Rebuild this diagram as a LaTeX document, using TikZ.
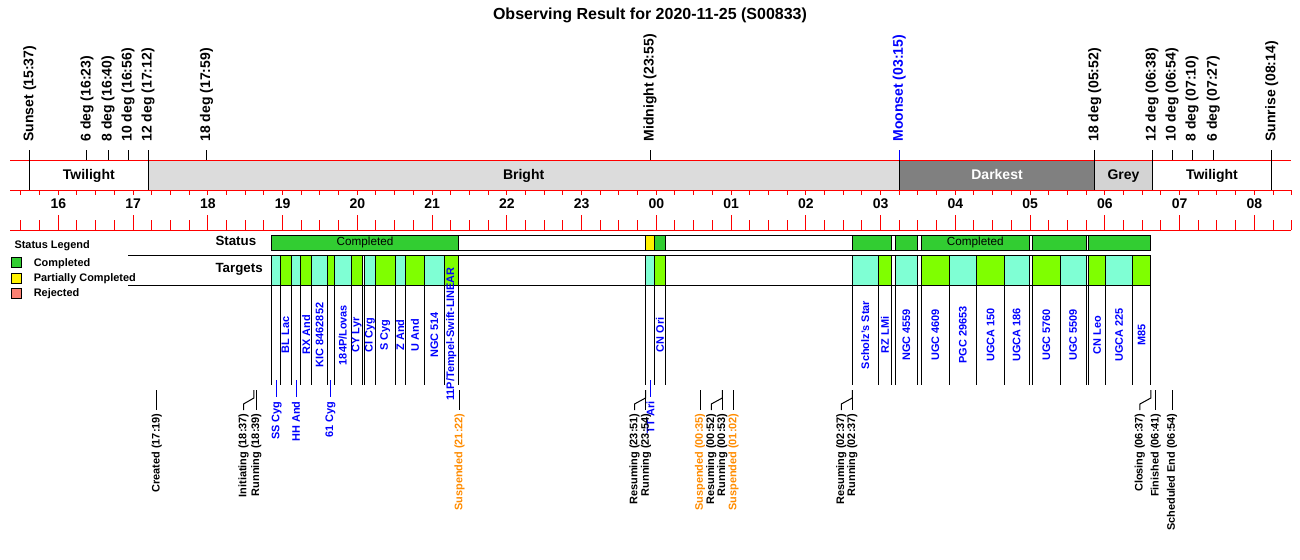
\documentclass[tikz,border=0pt]{standalone}
\usepackage{fontspec}
\setmainfont{Liberation Sans}
\definecolor{stgreen}{RGB}{50,205,50}
\definecolor{tgaqua}{RGB}{127,255,212}
\definecolor{tgchart}{RGB}{127,255,0}
\definecolor{brightband}{RGB}{220,220,220}
\definecolor{darkband}{RGB}{128,128,128}
\definecolor{greyband}{RGB}{211,211,211}
\definecolor{rejsalmon}{RGB}{250,128,114}
\definecolor{susporange}{RGB}{255,140,0}
\newcommand\evstraight[1]{\draw (#1,390) -- (#1,410);}
\newcommand\evshift[2]{\draw (#1,390) -- (#1,398) -- (#2,404) -- (#2,410);}
\newcommand\tgtstem[1]{\draw[blue] (#1,380) -- (#1,397);}
\begin{document}
\begin{tikzpicture}[x=0.75pt,y=-0.75pt,line width=0.75pt,
  declare function={tx(\t)=58.3+74.75*(\t-16);},
  rule/.style={draw=red,line width=0.75pt},
  toplab/.style={rotate=90,anchor=west,inner sep=0pt,font=\bfseries\fontsize{10.5}{12}\selectfont},
  tgtlab/.style={rotate=90,inner sep=0pt,text=blue,font=\bfseries\fontsize{8.2}{10}\selectfont},
  tgtlow/.style={tgtlab,anchor=east},
  evlab/.style={rotate=90,anchor=east,inner sep=0pt,font=\bfseries\fontsize{8.2}{10}\selectfont},
  hourlab/.style={inner sep=0pt,font=\bfseries\fontsize{10.5}{12}\selectfont},
  bandlab/.style={anchor=base,inner sep=0pt,font=\bfseries\fontsize{10.5}{12}\selectfont},
  rowlab/.style={anchor=west,inner sep=0pt,font=\bfseries\fontsize{10}{12}\selectfont},
  leglab/.style={anchor=west,inner sep=0pt,font=\bfseries\fontsize{8.2}{10}\selectfont},
  legbox/.style={draw=black,line width=0.75pt},
  tbox/.style={draw=black,line width=0.75pt}]
\useasboundingbox (0,0) rectangle (1300,560);
\fill[white] (0,0) rectangle (1300,560);

% title
\node[inner sep=0pt,anchor=base,font=\bfseries\fontsize{12}{14}\selectfont] (title) at (650,20) {Observing Result for 2020-11-25 (S00833)};

% sky band
\fill[brightband] ({tx(17.2)},160) rectangle ({tx(27.25)},190);
\fill[darkband] ({tx(27.25)},160) rectangle ({tx(29+52/60)},190);
\fill[greyband] ({tx(29+52/60)},160) rectangle ({tx(30+38/60)},190);
\node[bandlab] (bTw1) at ({(tx(15+37/60)+tx(17.2))/2},179) {Twilight};
\node[bandlab] (bBr) at ({(tx(17.2)+tx(27.25))/2},179) {Bright};
\node[bandlab,text=white] (bDk) at ({(tx(27.25)+tx(29+52/60))/2},179) {Darkest};
\node[bandlab] (bGr) at ({(tx(29+52/60)+tx(30+38/60))/2},179) {Grey};
\node[bandlab] (bTw2) at ({(tx(30+38/60)+tx(32+14/60))/2},179) {Twilight};

% red rules and ticks
\draw[rule] (10,160) -- (1291,160);
\draw[rule] (10,190) -- (1291,190);
\draw[rule] (10,230) -- (1291,230);
\foreach \q in {0,...,68} {
  \draw[rule] ({tx(15.5+\q/4)},190) -- ++(0,5);
  \draw[rule] ({tx(15.5+\q/4)},230) -- ++(0,-10);
}
\foreach \h in {16,...,32} \draw[rule] ({tx(\h)},230) -- ++(0,-15);
\foreach \h/\l in {16/16,17/17,18/18,19/19,20/20,21/21,22/22,23/23,24/00,25/01,26/02,27/03,28/04,29/05,30/06,31/07,32/08}
  \node[hourlab] (h\h) at ({tx(\h)},204) {\l};

% sky events
\draw ({tx(15+37/60)},150) -- ({tx(15+37/60)},190);
\node[toplab] (mSunset) at ({tx(15+37/60)},142) {Sunset (15:37)};
\draw ({tx(16+23/60)},150) -- ({tx(16+23/60)},160);
\node[toplab] (m6a) at ({tx(16+23/60)},142) {6 deg (16:23)};
\draw ({tx(16+40/60)},150) -- ({tx(16+40/60)},160);
\node[toplab] (m8a) at ({tx(16+40/60)},142) {8 deg (16:40)};
\draw ({tx(16+56/60)},150) -- ({tx(16+56/60)},160);
\node[toplab] (m10a) at ({tx(16+56/60)},142) {10 deg (16:56)};
\draw ({tx(17.2)},150) -- ({tx(17.2)},190);
\node[toplab] (m12a) at ({tx(17.2)},142) {12 deg (17:12)};
\draw ({tx(17+59/60)},150) -- ({tx(17+59/60)},160);
\node[toplab] (m18a) at ({tx(17+59/60)},142) {18 deg (17:59)};
\draw ({tx(23+55/60)},150) -- ({tx(23+55/60)},160);
\node[toplab] (mMid) at ({tx(23+55/60)},142) {Midnight (23:55)};
\draw[blue] ({tx(27.25)},150) -- ({tx(27.25)},160);
\draw ({tx(27.25)},160) -- ({tx(27.25)},190);
\node[toplab,text=blue] (mMoon) at ({tx(27.25)},142) {Moonset (03:15)};
\draw ({tx(29+52/60)},150) -- ({tx(29+52/60)},190);
\node[toplab] (m18b) at ({tx(29+52/60)},142) {18 deg (05:52)};
\draw ({tx(30+38/60)},150) -- ({tx(30+38/60)},190);
\node[toplab] (m12b) at ({tx(30+38/60)},142) {12 deg (06:38)};
\draw ({tx(30+54/60)},150) -- ({tx(30+54/60)},160);
\node[toplab] (m10b) at ({tx(30+54/60)},142) {10 deg (06:54)};
\draw ({tx(31+10/60)},150) -- ({tx(31+10/60)},160);
\node[toplab] (m8b) at ({tx(31+10/60)},142) {8 deg (07:10)};
\draw ({tx(31+27/60)},150) -- ({tx(31+27/60)},160);
\node[toplab] (m6b) at ({tx(31+27/60)},142) {6 deg (07:27)};
\draw ({tx(32+14/60)},150) -- ({tx(32+14/60)},190);
\node[toplab] (mSunrise) at ({tx(32+14/60)},142) {Sunrise (08:14)};

% legend
\node[leglab] (legT) at (14,246) {Status Legend};
\filldraw[legbox,fill=stgreen] (11.3,257.7) rectangle (21.3,267.7);
\filldraw[legbox,fill=yellow] (11.3,273.3) rectangle (21.3,283.3);
\filldraw[legbox,fill=rejsalmon] (11.3,288.3) rectangle (21.3,298.3);
\node[leglab] (leg1) at (33.3,263.5) {Completed};
\node[leglab] (leg2) at (33.3,278.5) {Partially Completed};
\node[leglab] (leg3) at (33.3,293.5) {Rejected};

% row labels
\node[rowlab] (rStatus) at (215,241) {Status};
\node[rowlab] (rTargets) at (215,269) {Targets};

% status row
\filldraw[tbox,fill=white] (271.7,235) rectangle (1150.7,250);
\foreach \a/\b/\c in {271.7/458.3/stgreen,645.7/654.3/yellow,654.3/665.7/stgreen,852.3/891.7/stgreen,895.3/917.3/stgreen,921.7/1029/stgreen,1032.7/1086/stgreen,1088.7/1150.7/stgreen}
  \filldraw[tbox,fill=\c] (\a,235) rectangle (\b,250);
\node[inner sep=0pt,font=\fontsize{8.8}{10}\selectfont] (sC1) at (365,242.5) {Completed};
\node[inner sep=0pt,font=\fontsize{8.8}{10}\selectfont] (sC2) at (975.3,242.5) {Completed};

% targets row
\draw (128,255) -- (1150.7,255);
\draw (128,285) -- (1150.7,285);
\foreach \a/\b/\c in {271.7/280/tgaqua,280/291/tgchart,291/300.7/tgaqua,300.7/311.7/tgchart,311.7/327.7/tgaqua,327.7/334.3/tgchart,334.3/351/tgaqua,351/362.7/tgchart,364.3/375.7/tgaqua,375.7/395/tgchart,395/405.7/tgaqua,405.7/424.3/tgchart,424.3/444.3/tgaqua,444.3/458.3/tgchart,645.7/654.3/tgaqua,654.3/665.7/tgchart,852.3/878.3/tgaqua,878.3/891.7/tgchart,895.3/917.3/tgaqua,921.7/949/tgchart,949/976.7/tgaqua,976.7/1004.3/tgchart,1004.3/1029/tgaqua,1032.7/1060/tgchart,1060/1086/tgaqua,1088.7/1105.7/tgchart,1105.7/1132.3/tgaqua,1132.3/1150.7/tgchart}
{
  \filldraw[tbox,fill=\c] (\a,255) rectangle (\b,285);
  \draw (\a,285) -- (\a,385);
  \draw (\b,285) -- (\b,385);
}

% target labels
\node[tgtlab] (tBL) at (285.5,335) {BL Lac};
\node[tgtlab] (tRX) at (306.2,335) {RX And};
\node[tgtlab] (tKIC) at (319.7,335) {KIC 8462852};
\node[tgtlab] (t184) at (342.7,335) {184P/Lovas};
\node[tgtlab] (tCY) at (356.8,335) {CY Lyr};
\node[tgtlab] (tCI) at (370,335) {CI Cyg};
\node[tgtlab] (tS) at (385.3,335) {S Cyg};
\node[tgtlab] (tZ) at (400.3,335) {Z And};
\node[tgtlab] (tU) at (415,335) {U And};
\node[tgtlab] (tNGC514) at (434.3,335) {NGC 514};
\node[tgtlab] (t11P) at (451.3,334) {11P/Tempel-Swift-LINEAR};
\node[tgtlab] (tCNOri) at (660,335) {CN Ori};
\node[tgtlab] (tScholz) at (865.3,335) {Scholz's Star};
\node[tgtlab] (tRZ) at (885,335) {RZ LMi};
\node[tgtlab] (tN4559) at (906.3,335) {NGC 4559};
\node[tgtlab] (tU4609) at (935.3,335) {UGC 4609};
\node[tgtlab] (tP29653) at (962.8,335) {PGC 29653};
\node[tgtlab] (tUA150) at (990.5,335) {UGCA 150};
\node[tgtlab] (tUA186) at (1016.6,335) {UGCA 186};
\node[tgtlab] (tU5760) at (1046.3,335) {UGC 5760};
\node[tgtlab] (tU5509) at (1073,335) {UGC 5509};
\node[tgtlab] (tCNLeo) at (1097.2,335) {CN Leo};
\node[tgtlab] (tUA225) at (1119,335) {UGCA 225};
\node[tgtlab] (tM85) at (1141.5,335) {M85};

% narrow targets, labels below
\tgtstem{276.7}
\node[tgtlow] (tSS) at (276.7,401) {SS Cyg};
\tgtstem{296}
\node[tgtlow] (tHH) at (296,401) {HH And};
\tgtstem{330.5}
\node[tgtlow] (t61) at (330.5,401) {61 Cyg};
\tgtstem{650.5}
\node[tgtlow] (tTT) at (650.5,401) {TT Ari};

% observing events
\evstraight{156.7}
\node[evlab] (eCreated) at (156.7,413) {Created (17:19)};
\evshift{253.9}{243.5}
\node[evlab] (eInit) at (243.5,413) {Initiating (18:37)};
\evstraight{256.4}
\node[evlab] (eRun1) at (256.4,413) {Running (18:39)};
\evstraight{459.5}
\node[evlab,text=susporange] (eSusp1) at (459.5,413) {Suspended (21:22)};
\evshift{645.5}{634.5}
\node[evlab] (eRes1) at (634.5,413) {Resuming (23:51)};
\evstraight{645.5}
\node[evlab] (eRun2) at (646,413) {Running (23:54)};
\evstraight{700.1}
\node[evlab,text=susporange] (eSusp2) at (700.1,413) {Suspended (00:35)};
\evshift{722.3}{711.3}
\node[evlab] (eRes2) at (711.3,413) {Resuming (00:52)};
\evstraight{722.3}
\node[evlab] (eRun3) at (722.3,413) {Running (00:53)};
\evstraight{733.6}
\node[evlab,text=susporange] (eSusp3) at (733.6,413) {Suspended (01:02)};
\evshift{852.3}{841.3}
\node[evlab] (eRes3) at (841.3,413) {Resuming (02:37)};
\evstraight{852.3}
\node[evlab] (eRun4) at (852.3,413) {Running (02:37)};
\evshift{1150.9}{1139.9}
\node[evlab] (eClose) at (1139.9,413) {Closing (06:37)};
\evstraight{1155.9}
\node[evlab] (eFin) at (1155.9,413) {Finished (06:41)};
\evstraight{1172.1}
\node[evlab] (eEnd) at (1172.1,413) {Scheduled End (06:54)};
\end{tikzpicture}
\end{document}
